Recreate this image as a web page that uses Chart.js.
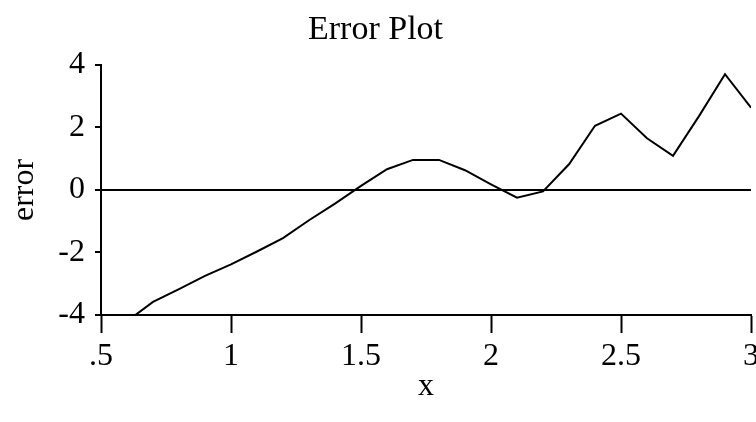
<!DOCTYPE html>
<html>
<head>
<meta charset="utf-8">
<title>Error Plot</title>
<script src="https://cdn.jsdelivr.net/npm/chart.js@4/dist/chart.umd.min.js"></script>
<style>
  html, body { margin: 0; padding: 0; background: #fff; overflow: hidden; }
  #wrap { width: 756px; height: 422px; overflow: hidden; }
  canvas { display: block; }
</style>
</head>
<body>
<div id="wrap"><canvas id="chart" width="770" height="422"></canvas></div>
<script>
// Sample positions and the error measured at each one
const xValues = [0.6, 0.7, 0.8, 0.9, 1.0, 1.1, 1.2, 1.3, 1.4, 1.5, 1.6, 1.7, 1.8,
                 1.9, 2.0, 2.1, 2.2, 2.3, 2.4, 2.5, 2.6, 2.7, 2.8, 2.9, 3.0];
const errorValues = [-4.2, -3.58, -3.17, -2.75, -2.38, -1.97, -1.54, -0.97, -0.44, 0.13,
                     0.66, 0.96, 0.96, 0.63, 0.18, -0.25, -0.05, 0.82, 2.05, 2.44,
                     1.65, 1.09, 2.36, 3.70, 2.63];

// Axis tick labels
const xTickLabels = ['.5', '1', '1.5', '2', '2.5', '3'];
const yTickLabels = ['-4', '-2', '0', '2', '4'];

const serif = '"Liberation Serif", "Times New Roman", Times, serif';
const ink = '#000';

const points = xValues.map((x, i) => ({ x: x, y: errorValues[i] }));

new Chart(document.getElementById('chart'), {
  type: 'line',
  data: {
    datasets: [{
      label: 'error',
      data: points,
      borderColor: ink,
      borderWidth: 2,
      pointRadius: 0,
      tension: 0,
      fill: false
    }]
  },
  options: {
    responsive: false,
    animation: false,
    layout: { padding: { left: 0, right: 19, top: 0, bottom: 0 } },
    plugins: {
      legend: { display: false },
      tooltip: { enabled: false },
      title: {
        display: true,
        text: 'Error Plot',
        color: ink,
        font: { family: serif, size: 34, weight: 'normal' },
        padding: { top: 10, bottom: 14 }
      }
    },
    scales: {
      x: {
        type: 'linear',
        min: 0.5,
        max: 3,
        afterFit: (scale) => { scale.height = 107; },
        afterBuildTicks: (scale) => {
          scale.ticks = xTickLabels.map((_, i) => ({ value: 0.5 + i * 0.5 }));
        },
        ticks: {
          color: ink,
          font: { family: serif, size: 32 },
          padding: 4,
          maxRotation: 0,
          autoSkip: false,
          callback: (v, i) => xTickLabels[i]
        },
        grid: {
          drawOnChartArea: false,
          drawTicks: true,
          tickLength: 18,
          tickColor: ink,
          tickWidth: 2
        },
        border: { display: true, color: ink, width: 2 },
        title: {
          display: true,
          text: 'x',
          color: ink,
          font: { family: serif, size: 32 },
          padding: { top: 0, bottom: 16 }
        }
      },
      y: {
        type: 'linear',
        min: -4,
        max: 4,
        afterFit: (scale) => { scale.width = 101; },
        afterBuildTicks: (scale) => {
          scale.ticks = yTickLabels.map((_, i) => ({ value: -4 + i * 2 }));
        },
        ticks: {
          color: ink,
          font: { family: serif, size: 32 },
          padding: 10,
          autoSkip: false,
          callback: (v, i) => yTickLabels[i]
        },
        grid: {
          drawOnChartArea: true,
          drawTicks: true,
          tickLength: 6,
          tickColor: ink,
          tickWidth: 2,
          color: (ctx) => (ctx.tick && ctx.tick.value === 0 ? ink : 'rgba(0,0,0,0)'),
          lineWidth: 2
        },
        border: { display: true, color: ink, width: 2 },
        title: {
          display: true,
          text: 'error',
          color: ink,
          font: { family: serif, size: 32 },
          padding: { top: 5, bottom: 0 }
        }
      }
    }
  }
});
</script>
</body>
</html>
